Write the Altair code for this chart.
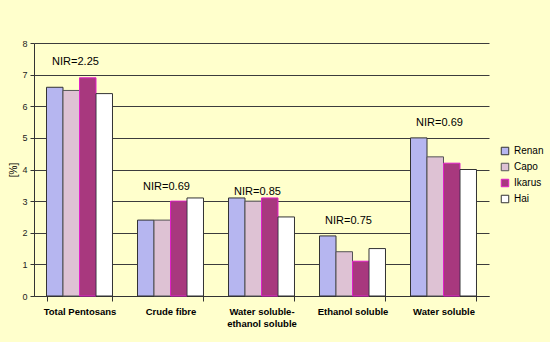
import altair as alt
import pandas as pd

categories = ["Total Pentosans", "Crude fibre", "Water soluble-ethanol soluble",
              "Ethanol soluble", "Water soluble"]
varieties = ["Renan", "Capo", "Ikarus", "Hai"]
renan = [6.6, 2.4, 3.1, 1.9, 5.0]
capo = [6.5, 2.4, 3.0, 1.4, 4.4]
ikarus = [6.9, 3.0, 3.1, 1.1, 4.2]
hai = [6.4, 3.1, 2.5, 1.5, 4.0]
nir_labels = ["NIR=2.25", "NIR=0.69", "NIR=0.85", "NIR=0.75", "NIR=0.69"]
nir_at = [7.4, 3.45, 3.3, 2.37, 5.47]
y_ticks = [0, 1, 2, 3, 4, 5, 6, 7, 8]

series = {"Renan": renan, "Capo": capo, "Ikarus": ikarus, "Hai": hai}
rows = []
for v in varieties:
    for c, val in zip(categories, series[v]):
        rows.append({"Category": c, "Variety": v, "Value": val})
bars_df = pd.DataFrame(rows)
nir_df = pd.DataFrame({"Category": categories, "Label": nir_labels, "At": nir_at})

FONT = "Liberation Sans"
fill_colors = ["#B6B6F0", "#DEC2D4", "#A8387E", "#FFFFFF"]
stroke_colors = ["#333333", "#555555", "#E020C8", "#333333"]

x_scale = alt.Scale(paddingInner=0.275, paddingOuter=0.1375)
x_axis = alt.Axis(
    title=None, labelAngle=0, tickBand="extent", tickSize=5,
    labelFont=FONT, labelFontSize=9.5, labelFontWeight="bold", labelColor="#000000",
    labelPadding=5, labelLineHeight=12,
    labelExpr="datum.value == 'Water soluble-ethanol soluble' ? ['Water soluble-', 'ethanol soluble'] : datum.label",
    domainColor="#333333", tickColor="#333333", grid=False,
)

y_scale = alt.Scale(domain=[0, 8], nice=False)
y_axis = alt.Axis(
    title="[%]", values=y_ticks, tickCount=20, format="d", labelOverlap=False,
    grid=True, gridColor="#3c3c3c", gridWidth=1,
    tickSize=4, tickColor="#333333", domainColor="#333333",
    labelFont=FONT, labelFontSize=9, labelColor="#222222", labelPadding=3,
    titleFont=FONT, titleFontSize=10, titleFontWeight="normal", titleColor="#000000",
    titlePadding=3,
)

legend_cfg = dict(
    title=None, orient="none", legendX=466, legendY=103,
    symbolType="square", symbolSize=56, symbolStrokeWidth=1,
    labelFont=FONT, labelFontSize=10, labelColor="#000000",
    labelOffset=4, rowPadding=4,
)

bars = alt.Chart(bars_df).mark_bar(strokeWidth=1).encode(
    x=alt.X("Category:N", sort=categories, scale=x_scale, axis=x_axis),
    xOffset=alt.XOffset("Variety:N", sort=varieties, scale=alt.Scale(paddingInner=0, paddingOuter=0)),
    y=alt.Y("Value:Q", scale=y_scale, axis=y_axis),
    fill=alt.Fill(
        "Variety:N", sort=varieties,
        scale=alt.Scale(domain=varieties, range=fill_colors),
        legend=alt.Legend(**legend_cfg),
    ),
    stroke=alt.Stroke(
        "Variety:N", sort=varieties,
        scale=alt.Scale(domain=varieties, range=stroke_colors),
        legend=alt.Legend(**legend_cfg),
    ),
)

labels = alt.Chart(nir_df).mark_text(
    font=FONT, fontSize=11, color="#000000", baseline="middle", align="center", dx=-4
).encode(
    x=alt.X("Category:N", sort=categories, scale=x_scale, axis=x_axis),
    y=alt.Y("At:Q", scale=y_scale, axis=y_axis),
    text="Label:N",
)

chart = alt.layer(bars, labels).properties(
    width=455, height=253,
    autosize=alt.AutoSizeParams(type="none"),
    padding={"left": 34, "top": 43, "right": 61, "bottom": 46},
    background="#FFFFCC",
).configure_view(stroke=None)

chart.save("out.html", embed_options={"renderer": "svg", "actions": False})
